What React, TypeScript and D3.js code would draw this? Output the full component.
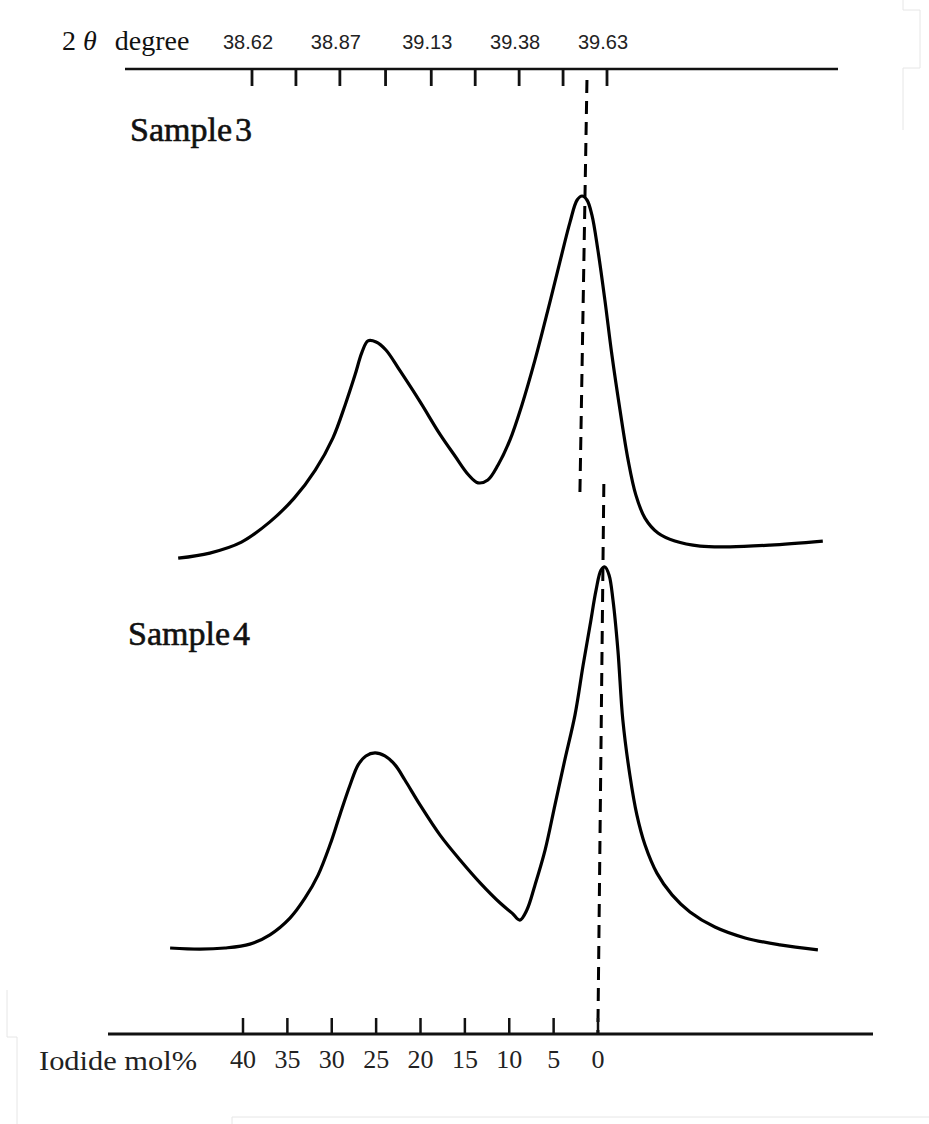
import React from "react";
import * as d3 from "d3";

// 2θ axis (top), degrees
const topTickValues = [38.62, 38.745, 38.87, 39.0, 39.13, 39.255, 39.38, 39.505, 39.63];
const topTickLabels = ["38.62", "", "38.87", "", "39.13", "", "39.38", "", "39.63"];

// Iodide mol% axis (bottom)
const iodideTicks = [40, 35, 30, 25, 20, 15, 10, 5, 0];

// Sample 3 profile: 2θ (deg), relative intensity
const sample3Deg = [38.41, 38.5, 38.59, 38.67, 38.74, 38.8, 38.85, 38.885, 38.913, 38.933, 38.95, 38.973, 39.001, 39.041, 39.098, 39.155, 39.198, 39.235, 39.263, 39.291, 39.32, 39.354, 39.388, 39.425, 39.462, 39.496, 39.525, 39.545, 39.559, 39.573, 39.587, 39.604, 39.624, 39.644, 39.667, 39.69, 39.712, 39.738, 39.775, 39.823, 39.895, 39.98, 40.094, 40.244];
const sample3Int = [0.5, 1.9, 4.9, 10.4, 17.0, 24.7, 33.5, 42.6, 50.8, 57.1, 60.2, 59.9, 57.7, 52.0, 43.5, 34.5, 28.5, 23.5, 21.2, 22.0, 26.1, 33.0, 42.6, 54.9, 68.7, 81.9, 92.9, 98.9, 100, 98.9, 94.8, 85.2, 71.4, 56.3, 41.2, 27.5, 17.9, 11.5, 7.4, 5.2, 3.8, 3.6, 4.1, 5.2];

// Sample 4 profile: 2θ (deg), relative intensity
const sample4Deg = [38.387, 38.472, 38.543, 38.614, 38.671, 38.728, 38.771, 38.808, 38.842, 38.87, 38.899, 38.922, 38.944, 38.97, 38.998, 39.027, 39.055, 39.098, 39.155, 39.212, 39.269, 39.326, 39.36, 39.382, 39.402, 39.425, 39.454, 39.482, 39.51, 39.539, 39.562, 39.582, 39.599, 39.613, 39.624, 39.636, 39.647, 39.661, 39.675, 39.695, 39.715, 39.738, 39.772, 39.815, 39.866, 39.937, 40.023, 40.122, 40.23];
const sample4Int = [1.8, 1.5, 1.8, 2.8, 5.2, 9.5, 14.7, 20.6, 28.4, 36.1, 43.8, 49.0, 51.3, 52.1, 51.3, 49.0, 45.1, 38.7, 30.9, 24.5, 18.6, 13.4, 10.8, 9.0, 11.6, 18.0, 27.1, 38.7, 50.3, 61.9, 74.7, 85.1, 94.1, 99.2, 100, 97.9, 91.5, 78.6, 60.6, 46.4, 36.1, 28.4, 21.1, 15.5, 11.1, 7.2, 4.4, 2.6, 1.3];

// Dashed peak markers: 2θ at top end and bottom end
const markerTopDeg = [39.573, 39.621];
const markerBottomDeg = [39.553, 39.604];

const sampleWords = ["Sample", "Sample"];
const sampleNumbers = ["3", "4"];

export default function App() {
  const W = 929, H = 1124;
  const x = d3.scaleLinear().domain([38.62, 39.63]).range([252, 607]);
  const xMol = d3.scaleLinear().domain([40, 0]).range([243, 598]);
  const y3 = d3.scaleLinear().domain([0, 100]).range([560, 196]);
  const y4 = d3.scaleLinear().domain([0, 100]).range([955, 567]);

  const topAxisY = 69;
  const botAxisY = 1034;

  const line3 = d3
    .line<number>()
    .x((_, i) => x(sample3Deg[i]))
    .y((d) => y3(d))
    .curve(d3.curveCatmullRom.alpha(0.5));
  const line4 = d3
    .line<number>()
    .x((_, i) => x(sample4Deg[i]))
    .y((d) => y4(d))
    .curve(d3.curveCatmullRom.alpha(0.5));

  const markerYs: [number, number][] = [
    [80, 492],
    [484, botAxisY],
  ];

  const labelPos = [
    { x: 130, y: 141 },
    { x: 128, y: 645 },
  ];

  const faint = "#e6e6e6";

  return (
    <svg
      width={W}
      height={H}
      style={{ position: "absolute", left: 0, top: 0, background: "#fff" }}
    >
      {/* faint scan artefacts */}
      <g stroke={faint} strokeWidth={1} fill="none">
        <path d="M903,0 V10 H920 V68 H903 V130" />
        <path d="M7,990 V1037 H17 V1124" />
        <path d="M232,1124 V1117 H929" />
      </g>

      {/* top axis title */}
      <text x={62} y={50} fontFamily="'Liberation Serif', serif" fontSize={28} fill="#111">
        2
        <tspan dx={7} fontStyle="italic">θ</tspan>
        <tspan dx={18}>degree</tspan>
      </text>

      {/* top axis */}
      <line x1={125} x2={838} y1={topAxisY} y2={topAxisY} stroke="#111" strokeWidth={2.5} />
      {topTickValues.map((v, i) => (
        <g key={i}>
          <line x1={x(v)} x2={x(v)} y1={topAxisY} y2={topAxisY + 17} stroke="#111" strokeWidth={2.8} />
          {topTickLabels[i] && (
            <text
              x={x(v) - 4}
              y={49}
              textAnchor="middle"
              fontFamily="'Liberation Sans', Arial, sans-serif"
              fontSize={20}
              fill="#222"
            >
              {topTickLabels[i]}
            </text>
          )}
        </g>
      ))}

      {/* sample labels */}
      {labelPos.map((p, i) => (
        <text
          key={i}
          x={p.x}
          y={p.y}
          fontFamily="'Liberation Serif', serif"
          fontSize={34}
          fill="#111"
          stroke="#111"
          strokeWidth={0.6}
        >
          {sampleWords[i]}
          <tspan dx={3}>{sampleNumbers[i]}</tspan>
        </text>
      ))}

      {/* profiles */}
      <path d={line3(sample3Int) || ""} fill="none" stroke="#000" strokeWidth={3.2} strokeLinejoin="round" />
      <path d={line4(sample4Int) || ""} fill="none" stroke="#000" strokeWidth={3.2} strokeLinejoin="round" />

      {/* dashed peak markers */}
      {markerTopDeg.map((t, i) => (
        <line
          key={i}
          x1={x(t)}
          x2={x(markerBottomDeg[i])}
          y1={markerYs[i][0]}
          y2={markerYs[i][1]}
          stroke="#000"
          strokeWidth={3}
          strokeDasharray="13 8"
        />
      ))}

      {/* bottom axis */}
      <line x1={108} x2={873} y1={botAxisY} y2={botAxisY} stroke="#111" strokeWidth={3} />
      {iodideTicks.map((v) => (
        <g key={v}>
          <line x1={xMol(v)} x2={xMol(v)} y1={botAxisY} y2={botAxisY - 16} stroke="#111" strokeWidth={2.5} />
          <text
            x={xMol(v)}
            y={1068}
            textAnchor="middle"
            fontFamily="'Liberation Serif', serif"
            fontSize={26}
            fill="#222"
          >
            {v}
          </text>
        </g>
      ))}
      <text
        x={39}
        y={1070}
        fontFamily="'Liberation Serif', serif"
        fontSize={28}
        fill="#222"
        textLength={158}
        lengthAdjust="spacingAndGlyphs"
      >
        Iodide mol%
      </text>
    </svg>
  );
}
